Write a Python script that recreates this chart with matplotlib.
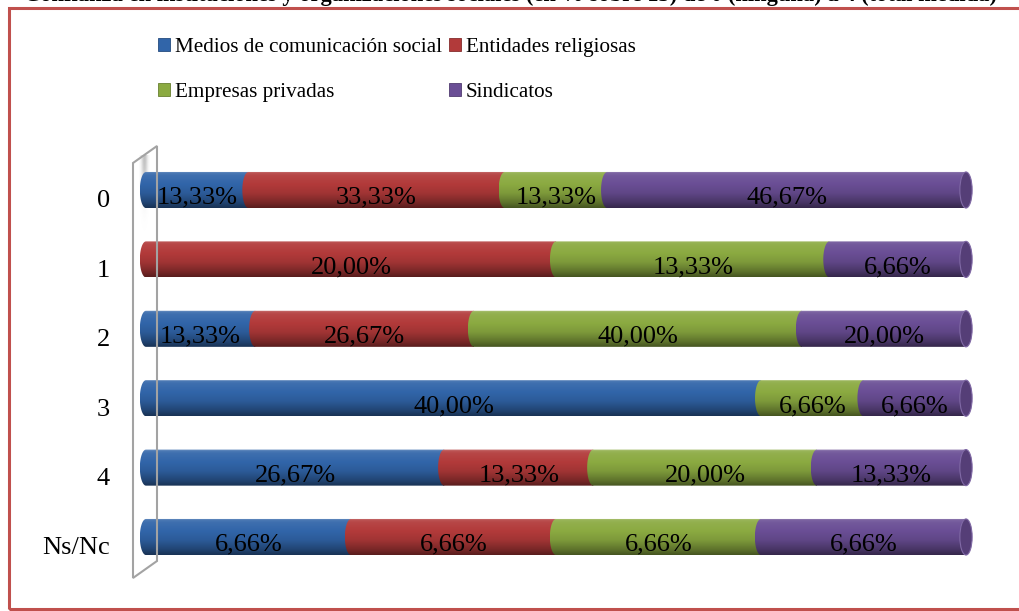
import numpy as np
import matplotlib
matplotlib.use("Agg")
import matplotlib.pyplot as plt
from matplotlib.path import Path
from matplotlib.patches import PathPatch, Rectangle, Ellipse, Polygon
from matplotlib import colors as mcolors
from matplotlib.font_manager import FontProperties

plt.rcParams["font.family"] = ["Liberation Serif", "DejaVu Serif"]

# ---- data -------------------------------------------------------------
categories = ["0", "1", "2", "3", "4", "Ns/Nc"]
series_names = ["Medios de comunicación social", "Entidades religiosas",
                "Empresas privadas", "Sindicatos"]
medios = [13.33, 0.00, 13.33, 40.00, 26.67, 6.66]
religiosas = [33.33, 20.00, 26.67, 0.00, 13.33, 6.66]
empresas = [13.33, 13.33, 40.00, 6.66, 20.00, 6.66]
sindicatos = [46.67, 6.66, 20.00, 6.66, 13.33, 6.66]
series_colors = ["#3165A9", "#B23A3A", "#8BAA41", "#6A4E95"]
title = ("Confianza en instituciones y organizaciones sociales (en % sobre 15) "
         "de 0 (ninguna) a 4 (total medida)")

# ---- figure setup -----------------------------------------------------
W, H = 1019, 611
fig = plt.figure(figsize=(W / 100, H / 100), dpi=100)


def fx(px):
    return px / W


def fy(py):
    return 1 - py / H


ax_l, ax_r, ax_t, ax_b = 146, 966, 155.3, 571.7
ax = fig.add_axes([fx(ax_l), fy(ax_b), fx(ax_r - ax_l), (ax_b - ax_t) / H])
ax.set_axis_off()

values = np.array([medios, religiosas, empresas, sindicatos])  # series x rows
totals = values.sum(axis=0)
shares = values / totals * 100.0

n_rows = len(categories)
bar_h = 0.52
half = bar_h / 2
cap_a = 0.75  # half-width of the round ends, in x units

# vertical shading profile of a cylinder (top -> bottom)
prof_t = [0.0, 0.05, 0.12, 0.35, 0.6, 0.85, 1.0]
prof_f = [1.35, 1.12, 1.06, 1.0, 0.9, 0.68, 0.5]


def shade(color, f):
    rgb = np.array(mcolors.to_rgb(color))
    if f >= 1:
        return rgb + (1 - rgb) * (f - 1)
    return rgb * f


def gradient(color, n=80):
    t = np.linspace(0, 1, n)
    f = np.interp(t, prof_t, prof_f)
    img = np.array([shade(color, v) for v in f])
    return img[:, None, :]


def segment_path(x0, x1, c, a, b, m=40):
    th = np.linspace(np.pi / 2, 3 * np.pi / 2, m)
    arc = np.column_stack([x0 + a * np.cos(th), c + b * np.sin(th)])
    pts = np.vstack([[x1, c - b], [x1, c + b], arc, [[x1, c - b]]])
    codes = [Path.MOVETO] + [Path.LINETO] * (len(pts) - 2) + [Path.CLOSEPOLY]
    return Path(pts, codes)


z = 2
for r in range(n_rows):
    left = 0.0
    nz = [s for s in range(len(series_names)) if values[s, r] > 0]
    for s in nz:
        w = shares[s, r]
        x0, x1 = left, left + w
        p = PathPatch(segment_path(x0, x1, r, cap_a, half), facecolor="none",
                      edgecolor="none", transform=ax.transData)
        ax.add_patch(p)
        im = ax.imshow(gradient(series_colors[s]), aspect="auto",
                       extent=(x0 - cap_a, x1, r + half, r - half),
                       zorder=z, interpolation="bilinear")
        im.set_clip_box(fig.bbox)
        im.set_clip_path(p)
        z += 1
        if s == nz[-1]:
            ax.add_patch(Ellipse((x1, r), 2 * cap_a, bar_h,
                                 facecolor=shade(series_colors[s], 0.8),
                                 edgecolor=shade(series_colors[s], 1.15),
                                 lw=0.8, zorder=z, clip_on=False))
            z += 1
        label = f"{values[s, r]:.2f}".replace(".", ",") + "%"
        ax.text((x0 + x1) / 2, r + 0.2, label, ha="center", va="baseline",
                fontsize=19, color="black", zorder=100)
        left = x1

# category labels to the left of the wall
for r, cat in enumerate(categories):
    ax.text(-36 / 8.2, r + 0.25, cat, ha="right", va="baseline",
            fontsize=19, color="black", clip_on=False)

# side wall of the 3-D plot area
wall = [(133, 163), (157, 146), (157, 561), (133, 578)]
fig.add_artist(Polygon([(fx(x), fy(y)) for x, y in wall], closed=True,
                       fill=False, edgecolor="#A3A3A3", lw=1.5,
                       transform=fig.transFigure))
sh = np.zeros((60, 12, 4))
yy = np.linspace(0, 1, 60)[:, None]
xx = np.linspace(-1, 1, 12)[None, :]
sh[..., :3] = 0.55
sh[..., 3] = 0.55 * np.exp(-(yy / 0.45) ** 2) * np.exp(-(xx / 0.6) ** 2)
shadow = ax.imshow(sh, aspect="auto", extent=(-0.9, 0.35, 0.6, -0.5),
                   zorder=1, interpolation="bilinear")
shadow.set_clip_box(fig.bbox)
ax.set_xlim(0, 100)
ax.set_ylim(n_rows - 0.5, -0.5)

# legend (filled column by column, so order gives two rows of two)
order = [0, 2, 1, 3]
handles = [Rectangle((0, 0), 1, 1, facecolor=series_colors[i],
                     edgecolor=shade(series_colors[i], 0.75), lw=0.6)
           for i in order]
fig.legend(handles, [series_names[i] for i in order], loc="upper left",
           ncol=2, bbox_to_anchor=(fx(158), fy(38)), frameon=False,
           prop=FontProperties(family="Liberation Serif", size=15.2),
           handlelength=0.57, handleheight=0.57, handletextpad=0.25,
           columnspacing=0.3, labelspacing=1.24, borderpad=0,
           borderaxespad=0)

# outer frame
fig.add_artist(Rectangle((fx(9), fy(609)), fx(1040 - 9), (609 - 8) / H,
                         fill=False, edgecolor="#C0504D", lw=2.2,
                         transform=fig.transFigure))

# heading above the frame
t = fig.text(fx(511), fy(1), title, ha="center", va="baseline",
             fontsize=18, fontweight="bold")
fig.canvas.draw()
bw = t.get_window_extent().width
t.set_fontsize(18 * 972 / bw)

fig.savefig("out.png", dpi=100)
